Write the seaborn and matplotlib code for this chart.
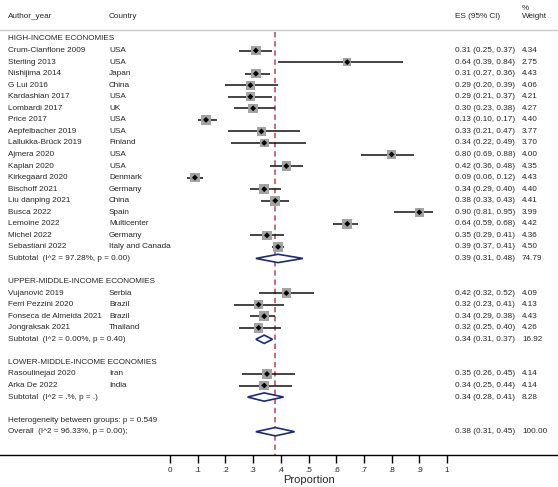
import numpy as np
import pandas as pd
import matplotlib
matplotlib.use("Agg")
import matplotlib.pyplot as plt
import matplotlib.transforms as mtransforms
from matplotlib.patches import Polygon
import seaborn as sns

# Study level data, one list per column, grouped by income level
high_authors = ["Crum-Cianflone 2009", "Sterling 2013", "Nishijima 2014", "G Lui 2016",
                "Kardashian 2017", "Lombardi 2017", "Price 2017", "Aepfelbacher 2019",
                "Lallukka-Brück 2019", "Ajmera 2020", "Kaplan 2020", "Kirkegaard 2020",
                "Bischoff 2021", "Liu danping 2021", "Busca 2022", "Lemoine 2022",
                "Michel 2022", "Sebastiani 2022"]
high_countries = ["USA", "USA", "Japan", "China", "USA", "UK", "USA", "USA", "Finland",
                  "USA", "USA", "Denmark", "Germany", "China", "Spain", "Multicenter",
                  "Germany", "Italy and Canada"]
high_es = [0.31, 0.64, 0.31, 0.29, 0.29, 0.30, 0.13, 0.33, 0.34, 0.80, 0.42, 0.09,
           0.34, 0.38, 0.90, 0.64, 0.35, 0.39]
high_lo = [0.25, 0.39, 0.27, 0.20, 0.21, 0.23, 0.10, 0.21, 0.22, 0.69, 0.36, 0.06,
           0.29, 0.33, 0.81, 0.59, 0.29, 0.37]
high_hi = [0.37, 0.84, 0.36, 0.39, 0.37, 0.38, 0.17, 0.47, 0.49, 0.88, 0.48, 0.12,
           0.40, 0.43, 0.95, 0.68, 0.41, 0.41]
high_w = [4.34, 2.75, 4.43, 4.06, 4.21, 4.27, 4.40, 3.77, 3.70, 4.00, 4.35, 4.43,
          4.40, 4.41, 3.99, 4.42, 4.36, 4.50]

upper_authors = ["Vujanović 2019", "Ferri Pezzini 2020", "Fonseca de Almeida 2021", "Jongraksak 2021"]
upper_countries = ["Serbia", "Brazil", "Brazil", "Thailand"]
upper_es = [0.42, 0.32, 0.34, 0.32]
upper_lo = [0.32, 0.23, 0.29, 0.25]
upper_hi = [0.52, 0.41, 0.38, 0.40]
upper_w = [4.09, 4.13, 4.43, 4.26]

lower_authors = ["Rasoulinejad 2020", "Arka De 2022"]
lower_countries = ["Iran", "India"]
lower_es = [0.35, 0.34]
lower_lo = [0.26, 0.25]
lower_hi = [0.45, 0.44]
lower_w = [4.14, 4.14]

group_names = ["HIGH-INCOME ECONOMIES", "UPPER-MIDDLE-INCOME ECONOMIES", "LOWER-MIDDLE-INCOME ECONOMIES"]
subtotal_labels = ["Subtotal  (I^2 = 97.28%, p = 0.00)", "Subtotal  (I^2 = 0.00%, p = 0.40)",
                   "Subtotal  (I^2 = .%, p = .)"]
subtotal_es = [0.39, 0.34, 0.34]
subtotal_lo = [0.31, 0.31, 0.28]
subtotal_hi = [0.48, 0.37, 0.41]
subtotal_w = [74.79, 16.92, 8.28]

overall_label = "Overall  (I^2 = 96.33%, p = 0.00);"
overall_es, overall_lo, overall_hi, overall_w = 0.38, 0.31, 0.45, 100.00
het_label = "Heterogeneity between groups: p = 0.549"

tick_vals = [0, 0.1, 0.2, 0.3, 0.4, 0.5, 0.6, 0.7, 0.8, 0.9, 1.0]
tick_labels = ["0", ".1", ".2", ".3", ".4", ".5", ".6", ".7", ".8", ".9", "1"]

groups = [
    (high_authors, high_countries, high_es, high_lo, high_hi, high_w),
    (upper_authors, upper_countries, upper_es, upper_lo, upper_hi, upper_w),
    (lower_authors, lower_countries, lower_es, lower_lo, lower_hi, lower_w),
]

# Build a row table: headers, studies, subtotals
studies = []
headers = []
subtotals = []
row = 0
for g, (au, co, es, lo, hi, w) in enumerate(groups):
    headers.append((row, group_names[g]))
    row += 1
    for i in range(len(au)):
        studies.append(dict(row=row, author=au[i], country=co[i], es=es[i], lo=lo[i], hi=hi[i], w=w[i]))
        row += 1
    subtotals.append((row, subtotal_labels[g], subtotal_es[g], subtotal_lo[g], subtotal_hi[g], subtotal_w[g]))
    row += 2
het_row = row
overall_row = row + 1
df = pd.DataFrame(studies)

sns.set_style("white")
plt.rcParams["font.family"] = ["Liberation Sans", "DejaVu Sans"]

W, H = 558, 487
fig = plt.figure(figsize=(W / 100, H / 100), dpi=100)
axis_px = 455
ax = fig.add_axes([0, (H - axis_px) / H, 1, axis_px / H])

# proportion 0 sits at 170 px, 1 at 447 px
x0_px, x1_px = 170, 447
span = x1_px - x0_px
ax.set_xlim(-x0_px / span, (W - x0_px) / span)
row0_px, row_h = 39, 11.55
ax.set_ylim((axis_px - row0_px) / row_h, -row0_px / row_h)

fs = 5.9
tr = mtransforms.blended_transform_factory(ax.transAxes, ax.transData)
col_author, col_country, col_es, col_w = 8 / W, 109 / W, 455 / W, 522 / W

# column headers
hdr_row = (17 - row0_px) / row_h
ax.text(col_author, hdr_row, "Author_year", transform=tr, fontsize=fs, va="center")
ax.text(col_country, hdr_row, "Country", transform=tr, fontsize=fs, va="center")
ax.text(col_es, hdr_row, "ES (95% CI)", transform=tr, fontsize=fs, va="center")
ax.text(col_w, hdr_row, "Weight", transform=tr, fontsize=fs, va="center")
ax.text(col_w, (8 - row0_px) / row_h, "%", transform=tr, fontsize=fs, va="center")
line_row = (30 - row0_px) / row_h
ax.plot([0, 1], [line_row, line_row], transform=tr, color="#c8c8c8", lw=1.0, clip_on=False)

# reference line at overall estimate
ax.plot([overall_es, overall_es], [line_row + 0.15, (axis_px - row0_px) / row_h],
        color="#b5474b", lw=1.1, ls=(0, (3.5, 2.5)), zorder=1)

for r, name in headers:
    ax.text(col_author, r, name, transform=tr, fontsize=fs, va="center")

# confidence intervals, weight squares and point estimates
ax.hlines(df["row"], df["lo"], df["hi"], color="#111111", lw=1.1, zorder=2)
sns.scatterplot(data=df, x="es", y="row", marker="s", s=df["w"] * 11, color="#a3a3a3",
                edgecolor="none", linewidth=0, zorder=3, ax=ax, legend=False)
sns.scatterplot(data=df, x="es", y="row", marker="D", s=9, color="black",
                edgecolor="none", linewidth=0, zorder=4, ax=ax, legend=False)

for _, s in df.iterrows():
    ax.text(col_author, s["row"], s["author"], transform=tr, fontsize=fs, va="center")
    ax.text(col_country, s["row"], s["country"], transform=tr, fontsize=fs, va="center")
    ax.text(col_es, s["row"], f"{s['es']:.2f} ({s['lo']:.2f}, {s['hi']:.2f})", transform=tr, fontsize=fs, va="center")
    ax.text(col_w, s["row"], f"{s['w']:.2f}", transform=tr, fontsize=fs, va="center")


def diamond(r, label, es, lo, hi, w):
    half = 0.36
    ax.add_patch(Polygon([[lo, r], [es, r - half], [hi, r], [es, r + half]], closed=True,
                         facecolor="white", edgecolor="#1c2a7c", lw=1.2, zorder=3))
    ax.text(col_author, r, label, transform=tr, fontsize=fs, va="center")
    ax.text(col_es, r, f"{es:.2f} ({lo:.2f}, {hi:.2f})", transform=tr, fontsize=fs, va="center")
    ax.text(col_w, r, f"{w:.2f}", transform=tr, fontsize=fs, va="center")


for st in subtotals:
    diamond(*st)
ax.text(col_author, het_row, het_label, transform=tr, fontsize=fs, va="center")
diamond(overall_row, overall_label, overall_es, overall_lo, overall_hi, overall_w)

# x axis
for sp in ["top", "left", "right"]:
    ax.spines[sp].set_visible(False)
ax.spines["bottom"].set_color("black")
ax.spines["bottom"].set_linewidth(1.0)
ax.set_yticks([])
ax.set_xticks(tick_vals)
ax.set_xticklabels(tick_labels, fontsize=fs)
ax.tick_params(axis="x", direction="out", length=6, width=1.0, color="black", pad=3, bottom=True)
ax.set_xlabel("Proportion", fontsize=8)
ax.xaxis.set_label_coords((x0_px + 0.5 * span) / W, -0.044)
ax.set_ylabel("")

fig.savefig("out.png", dpi=100)
